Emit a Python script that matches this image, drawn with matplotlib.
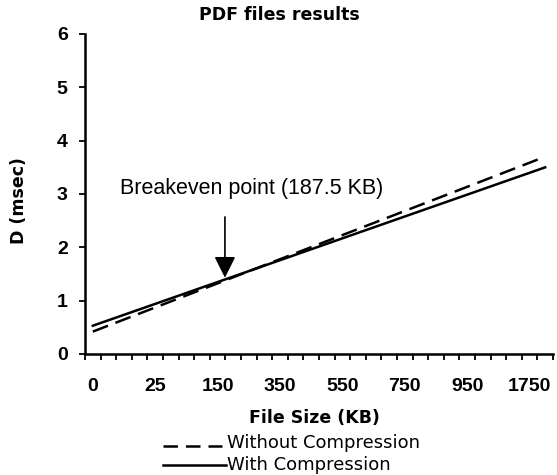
import matplotlib
matplotlib.use('Agg')
import matplotlib.pyplot as plt
from matplotlib.lines import Line2D
from matplotlib.ticker import FixedLocator, MultipleLocator

size_labels = ['0', '25', '150', '350', '550', '750', '950', '1750']
n_sizes = 30          # file size categories along the x axis
label_every = 4
line_pos = [0, 29]    # first and last category
without_comp = [0.42, 3.70]
with_comp = [0.53, 3.50]
breakeven_pos = 8.97
breakeven_d = 1.43
arrow_top = 2.57

W, H = 557, 475
fig = plt.figure(figsize=(W / 100, H / 100), dpi=100)
ax = fig.add_axes([85 / W, 1 - 354 / H, 468 / W, 320 / H])

x = [p + 0.5 for p in line_pos]
ax.plot(x, without_comp, color='black', lw=1.8, dashes=(6.5, 3.2))
ax.plot(x, with_comp, color='black', lw=1.8)

ax.set_xlim(0, n_sizes)
ax.set_ylim(0, 6)
for s in ['top', 'right']:
    ax.spines[s].set_visible(False)
for s in ['left', 'bottom']:
    ax.spines[s].set_linewidth(1.8)

tick_font = dict(family='Liberation Sans', weight='bold', size=14)
ax.xaxis.set_major_locator(FixedLocator([i * label_every + 0.5 for i in range(len(size_labels))]))
ax.set_xticklabels(size_labels, **tick_font)
ax.xaxis.set_minor_locator(MultipleLocator(1))
ax.tick_params(axis='x', which='major', length=0, pad=17)
ax.tick_params(axis='x', which='minor', length=4.5, width=1.3, direction='out')
ax.set_yticks(range(7))
ax.set_yticklabels([str(v) for v in range(7)], **tick_font)
ax.tick_params(axis='y', length=4.5, width=1.3, pad=8)

lab_font = dict(family='DejaVu Sans', weight='bold', size=12.5)
ax.set_xlabel('File Size (KB)', **lab_font)
ax.xaxis.set_label_coords((314 - 85) / 468, -0.172)
ax.set_ylabel('D (msec)', **lab_font)
ax.yaxis.set_label_coords(-0.122, 0.48)
fig.text(279 / W, 1 - 15 / H, 'PDF files results', ha='center', va='center', **lab_font)

ax.annotate('', xy=(breakeven_pos, breakeven_d), xytext=(breakeven_pos, arrow_top),
            arrowprops=dict(arrowstyle='-|>,head_width=0.5,head_length=1.0',
                            mutation_scale=13, lw=1.2, color='black',
                            shrinkA=0, shrinkB=0))
ax.text(2.24, 3.11, 'Breakeven point (187.5 KB)', ha='left', va='center',
        family='Liberation Sans', size=15.5)

# legend below the axes
leg_font = dict(family='DejaVu Sans', size=13)
fig.add_artist(Line2D([163 / W, 222 / W], [1 - 446 / H] * 2, color='black', lw=1.8,
                      dashes=(5.8, 3.2), transform=fig.transFigure))
fig.add_artist(Line2D([163 / W, 226 / W], [1 - 465 / H] * 2, color='black', lw=1.8,
                      transform=fig.transFigure))
fig.text(227 / W, 1 - 443.5 / H, 'Without Compression', ha='left', va='center', **leg_font)
fig.text(227 / W, 1 - 464.5 / H, 'With Compression', ha='left', va='center', **leg_font)

fig.savefig('out.png', dpi=100)
